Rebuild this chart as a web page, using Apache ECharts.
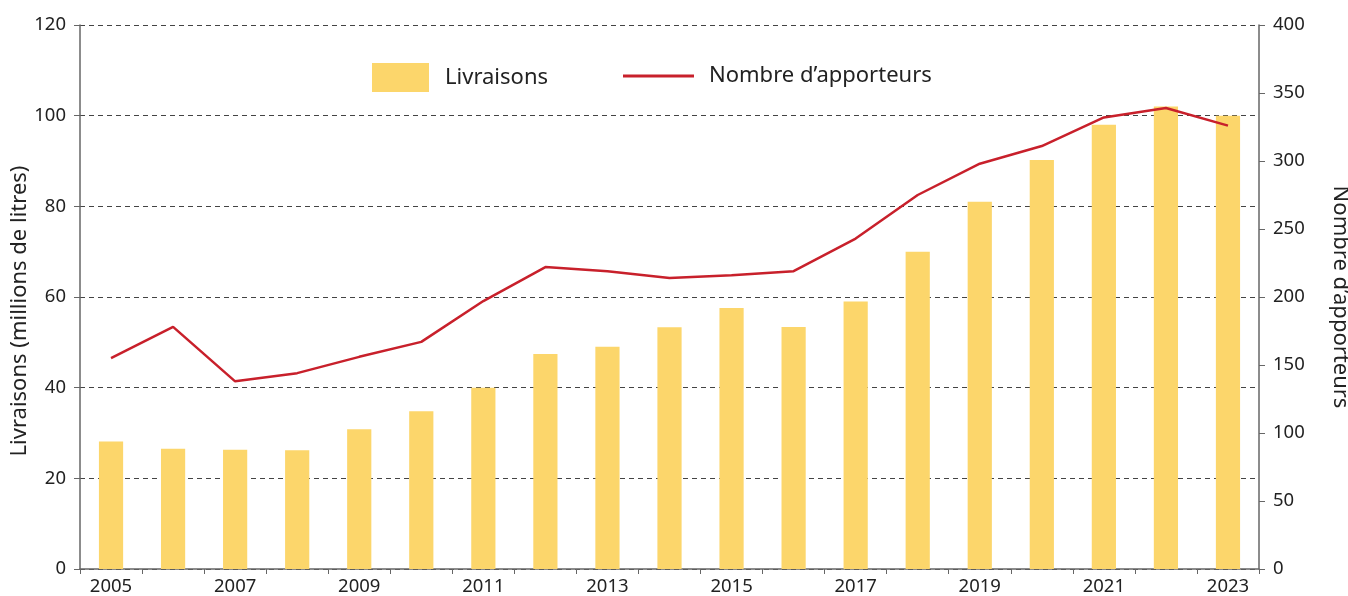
<!DOCTYPE html>
<html>
<head>
<meta charset="utf-8">
<script src="https://cdn.jsdelivr.net/npm/echarts@6/dist/echarts.min.js"></script>
<style>
  html, body { margin: 0; padding: 0; background: #fff; }
  #chart { width: 1348px; height: 596px; }
</style>
</head>
<body>
<div id="chart"></div>
<script>
// annees
var years = ['2005','2006','2007','2008','2009','2010','2011','2012','2013','2014',
             '2015','2016','2017','2018','2019','2020','2021','2022','2023'];
// livraisons, millions de litres
var livraisons = [28.1, 26.5, 26.3, 26.2, 30.8, 34.8, 40.0, 47.4, 49.0, 53.3,
                  57.6, 53.4, 59.0, 70.0, 81.0, 90.2, 98.0, 102.0, 100.0];
// nombre d'apporteurs
var apporteurs = [155, 178, 138, 144, 156, 167, 197, 222, 219, 214,
                  216, 219, 243, 275, 298, 311, 332, 339, 326];

var font = '"Noto Sans", "Open Sans", sans-serif';
var axisLine = { show: true, lineStyle: { color: '#666', width: 1.5 } };

var myChart = echarts.init(document.getElementById('chart'));
myChart.setOption({
    animation: false,
    grid: { left: 80, right: 89, top: 25, bottom: 27, outerBoundsMode: 'none', containLabel: false },
    legend: [
        {
            data: ['Livraisons'],
            left: 367, top: 58,
            itemWidth: 57, itemHeight: 29,
            icon: 'rect',
            textStyle: { fontFamily: font, fontSize: 22, color: '#222', padding: [0, 0, 0, 11] }
        },
        {
            data: ['Nombre d\u2019apporteurs'],
            left: 618, top: 60,
            itemWidth: 71, itemHeight: 3,
            icon: 'rect',
            textStyle: { fontFamily: font, fontSize: 22, color: '#222', padding: [0, 0, 0, 10] }
        }
    ],
    xAxis: {
        type: 'category',
        data: years,
        axisLine: axisLine,
        axisTick: { show: true, interval: 0, length: 5, lineStyle: { color: '#666' } },
        axisLabel: { interval: 1, fontFamily: font, fontSize: 18.5, color: '#222', margin: 8 }
    },
    yAxis: [
        {
            type: 'value',
            min: 0, max: 120, interval: 20,
            name: 'Livraisons (millions de litres)',
            nameLocation: 'middle',
            nameGap: 49,
            nameMoveOverlap: false,
            // decale le titre un peu vers le bas
            nameTextStyle: { fontFamily: font, fontSize: 22, color: '#222', padding: [0, 28, 0, 0] },
            axisLine: axisLine,
            axisTick: { show: true, length: 6, lineStyle: { color: '#666' } },
            axisLabel: { fontFamily: font, fontSize: 18.5, color: '#222', margin: 14 },
            splitLine: { show: true, lineStyle: { color: '#444', type: [5, 4], width: 1 } }
        },
        {
            type: 'value',
            min: 0, max: 400, interval: 50,
            name: 'Nombre d\u2019apporteurs',
            nameLocation: 'middle',
            nameRotate: -90,
            nameGap: 70,
            nameTextStyle: { fontFamily: font, fontSize: 22, color: '#222' },
            axisLine: axisLine,
            axisTick: { show: true, length: 6, lineStyle: { color: '#666' } },
            axisLabel: { fontFamily: font, fontSize: 18.5, color: '#222', margin: 14 },
            splitLine: { show: false }
        }
    ],
    series: [
        {
            name: 'Livraisons',
            type: 'bar',
            data: livraisons,
            barWidth: '39%',
            itemStyle: { color: '#FCD66B' },
            z: 1
        },
        {
            name: 'Nombre d\u2019apporteurs',
            type: 'line',
            yAxisIndex: 1,
            data: apporteurs,
            symbol: 'none',
            lineStyle: { color: '#C8202B', width: 2.5 },
            itemStyle: { color: '#C8202B' },
            z: 3
        }
    ]
});
</script>
</body>
</html>
